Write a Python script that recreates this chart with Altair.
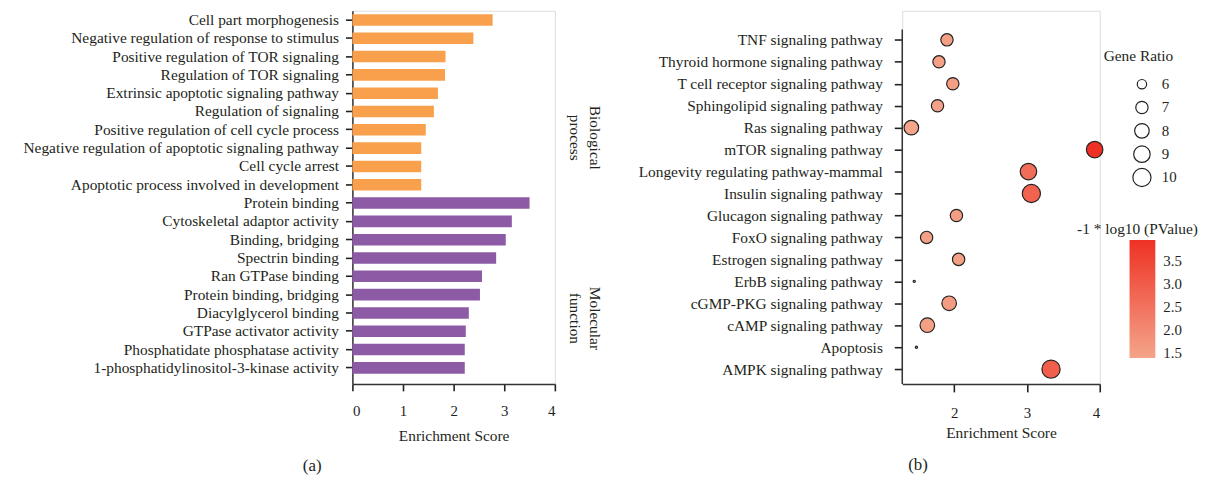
import math
import altair as alt
import pandas as pd

# ---------------- data ----------------
go_terms = [
    "Cell part morphogenesis",
    "Negative regulation of response to stimulus",
    "Positive regulation of TOR signaling",
    "Regulation of TOR signaling",
    "Extrinsic apoptotic signaling pathway",
    "Regulation of signaling",
    "Positive regulation of cell cycle process",
    "Negative regulation of apoptotic signaling pathway",
    "Cell cycle arrest",
    "Apoptotic process involved in development",
    "Protein binding",
    "Cytoskeletal adaptor activity",
    "Binding, bridging",
    "Spectrin binding",
    "Ran GTPase binding",
    "Protein binding, bridging",
    "Diacylglycerol binding",
    "GTPase activator activity",
    "Phosphatidate phosphatase activity",
    "1-phosphatidylinositol-3-kinase activity",
]
go_scores = [2.77, 2.39, 1.84, 1.83, 1.69, 1.61, 1.45, 1.36, 1.36, 1.36,
             3.50, 3.15, 3.03, 2.84, 2.56, 2.52, 2.30, 2.24, 2.22, 2.22]
go_groups = ["Biological process", "Biological process", "Biological process",
             "Biological process", "Biological process", "Biological process",
             "Biological process", "Biological process", "Biological process",
             "Biological process",
             "Molecular function", "Molecular function", "Molecular function",
             "Molecular function", "Molecular function", "Molecular function",
             "Molecular function", "Molecular function", "Molecular function",
             "Molecular function"]

pathways = [
    "TNF signaling pathway",
    "Thyroid hormone signaling pathway",
    "T cell receptor signaling pathway",
    "Sphingolipid signaling pathway",
    "Ras signaling pathway",
    "mTOR signaling pathway",
    "Longevity regulating pathway-mammal",
    "Insulin signaling pathway",
    "Glucagon signaling pathway",
    "FoxO signaling pathway",
    "Estrogen signaling pathway",
    "ErbB signaling pathway",
    "cGMP-PKG signaling pathway",
    "cAMP signaling pathway",
    "Apoptosis",
    "AMPK signaling pathway",
]
kegg_scores = [1.90, 1.79, 1.98, 1.77, 1.41, 3.93, 3.02, 3.06,
               2.03, 1.62, 2.06, 1.45, 1.93, 1.63, 1.48, 3.33]
gene_ratio = [7, 7, 7, 7, 8, 9, 9, 10, 7, 7, 7, 5, 8, 8, 5, 10]
neg_log_p = [1.50, 1.48, 1.52, 1.46, 1.38, 3.97, 2.63, 2.88,
             1.55, 1.45, 1.50, 1.42, 1.58, 1.50, 1.40, 2.96]

size_legend_values = [6, 7, 8, 9, 10]
color_legend_values = [1.5, 2.0, 2.5, 3.0, 3.5]

# ---------------- style ----------------
FONT = "Liberation Serif"
TXT = "#231F20"
AX = "#333333"
ORANGE = "#F9A04C"
PURPLE = "#8D5BA5"
LFS = 15.5
H = 376

left_df = pd.DataFrame({"term": go_terms, "score": go_scores, "group": go_groups})
right_df = pd.DataFrame({"pathway": pathways, "score": kegg_scores,
                         "ratio": gene_ratio, "logp": neg_log_p})
one = pd.DataFrame({"k": [0]})

axis_text = dict(labelColor=TXT, titleColor=TXT, labelFont=FONT, titleFont=FONT,
                 grid=False, tickColor="#222222", tickWidth=1.6)

# ---------------- left panel ----------------
bars = alt.Chart(left_df).mark_bar().encode(
    y=alt.Y("term:N", sort=go_terms,
            scale=alt.Scale(paddingInner=0.37, paddingOuter=0.374, align=0.25),
            axis=alt.Axis(title=None, labelFontSize=LFS, labelPadding=7, tickSize=7,
                          labelLimit=600, domainColor=AX, domainWidth=1.5, **axis_text)),
    x=alt.X("score:Q", scale=alt.Scale(domain=[0, 4], nice=False),
            axis=alt.Axis(values=[0, 1, 2, 3, 4], title="Enrichment Score",
                          labelFontSize=15, titleFontSize=LFS, titleFontWeight="normal",
                          tickSize=7, labelPadding=13, titlePadding=10,
                          domainColor=AX, domainWidth=1.5, **axis_text)),
    color=alt.Color("group:N",
                    scale=alt.Scale(domain=["Biological process", "Molecular function"],
                                    range=[ORANGE, PURPLE]),
                    legend=None),
)

bp_text = alt.Chart(one).mark_text(
    text=["Biological", "process"], angle=90, align="center", baseline="middle",
    font=FONT, fontSize=LFS, lineHeight=20, color=TXT,
).encode(x=alt.value(244), y=alt.value(128))
mf_text = alt.Chart(one).mark_text(
    text=["Molecular", "function"], angle=90, align="center", baseline="middle",
    font=FONT, fontSize=LFS, lineHeight=20, color=TXT,
).encode(x=alt.value(244), y=alt.value(310))

left = alt.layer(bars, bp_text, mf_text).properties(
    width=204, height=H,
    title=alt.TitleParams("(a)", orient="bottom", anchor="middle", frame="bounds",
                          font=FONT, fontSize=17, fontWeight="normal", color=TXT, offset=14),
)

# ---------------- right panel ----------------
size_dom = [5, 6, 7, 8, 9, 10]
size_rng = [(3.22 * (1 + 5 * math.sqrt((v - 5) / 5)) - 1.0) ** 2 for v in size_dom]

points = alt.Chart(right_df).mark_circle(opacity=1, stroke="#222222", strokeWidth=1.2).encode(
    y=alt.Y("pathway:N", sort=pathways,
            scale=alt.Scale(type="point", padding=1.084, align=0.663),
            axis=alt.Axis(title=None, labelFontSize=LFS, labelPadding=12, tickSize=8,
                          labelLimit=600, domain=False, domainOpacity=0, **axis_text)),
    x=alt.X("score:Q", scale=alt.Scale(domain=[1.285, 4.0], nice=False, zero=False),
            axis=alt.Axis(values=[2, 3, 4], title="Enrichment Score",
                          labelFontSize=15, titleFontSize=LFS, titleFontWeight="normal",
                          tickSize=8, labelPadding=14, titlePadding=5,
                          domainColor=AX, domainWidth=1.5, **axis_text)),
    size=alt.Size("ratio:Q",
                  scale=alt.Scale(domain=size_dom, range=size_rng),
                  legend=alt.Legend(title=None, orient="none", legendX=231.5, legendY=64,
                                    values=size_legend_values, symbolFillColor="white",
                                    symbolStrokeColor="#222222", symbolStrokeWidth=1.2,
                                    symbolOpacity=1, labelFont=FONT, labelFontSize=15,
                                    labelColor=TXT, labelOffset=10, rowPadding=3.5,
                                    clipHeight=20, padding=0)),
    color=alt.Color("logp:Q",
                    scale=alt.Scale(domain=[min(neg_log_p), max(neg_log_p)],
                                    range=["#F4A58A", "#EE3124"], interpolate="rgb"),
                    legend=alt.Legend(title=None, orient="none", legendX=229, legendY=231,
                                      direction="vertical", gradientLength=119,
                                      gradientThickness=26, values=color_legend_values,
                                      format=".1f", labelFont=FONT, labelFontSize=15,
                                      labelColor=TXT, labelOffset=8, gradientStrokeWidth=0,
                                      padding=0)),
)

# y-axis line of the right panel (starts just above the first row, as in the reference)
y_axis_line = alt.Chart(one).mark_rule(color=AX, strokeWidth=1.5).encode(
    x=alt.value(0), y=alt.value(19), y2=alt.value(H)
)

gr_title = alt.Chart(one).mark_text(
    text="Gene Ratio", align="center", baseline="middle", font=FONT, fontSize=LFS, color=TXT,
).encode(x=alt.value(238), y=alt.value(46))
lp_title = alt.Chart(one).mark_text(
    text="-1 * log10 (PValue)", align="center", baseline="middle", font=FONT, fontSize=LFS,
    color=TXT,
).encode(x=alt.value(237), y=alt.value(220))

right = alt.layer(y_axis_line, points, gr_title, lp_title).properties(
    width=199, height=H,
    title=alt.TitleParams("(b)", orient="bottom", anchor="middle", frame="bounds",
                          font=FONT, fontSize=17, fontWeight="normal", color=TXT, offset=16),
)

chart = alt.hconcat(left, right, spacing=35).resolve_scale(
    color="independent", size="independent"
).resolve_legend(color="independent", size="independent").properties(
    padding={"left": 14, "top": 0, "right": 0, "bottom": 0}
).configure_view(stroke=None).configure(font=FONT)

chart.save("out.html", embed_options={"renderer": "svg", "actions": False})
